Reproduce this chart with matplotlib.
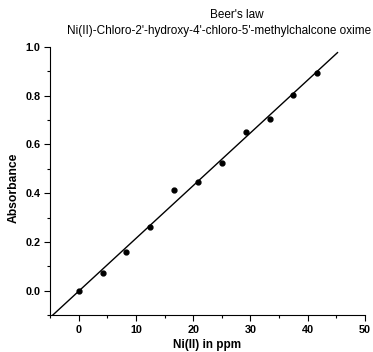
import numpy as np
import matplotlib
matplotlib.use("Agg")
import matplotlib.pyplot as plt
from matplotlib.ticker import MultipleLocator

conc = [0, 4.17, 8.33, 12.5, 16.67, 20.83, 25.0, 29.17, 33.33, 37.5, 41.67]
absorb = [0.0, 0.073, 0.160, 0.262, 0.414, 0.447, 0.525, 0.652, 0.706, 0.805, 0.895]
title1 = "Beer's law"
title2 = "Ni(II)-Chloro-2'-hydroxy-4'-chloro-5'-methylchalcone oxime"

plt.rcParams['font.family'] = ['Liberation Sans', 'DejaVu Sans']

fig = plt.figure(figsize=(3.73, 3.52), dpi=100)
ax = fig.add_axes([50/373, (352-315)/352, (365-50)/373, (315-47)/352])

slope, icpt = np.polyfit(conc, absorb, 1)
xl = np.array([-6, 45.2])
ax.plot(xl, slope*xl + icpt, color='black', lw=1.0)
ax.plot(conc, absorb, 'o', color='black', ms=3.5)

ax.set_xlim(-5, 50)
ax.set_ylim(-0.1, 1.0)
ax.xaxis.set_minor_locator(MultipleLocator(5))
ax.yaxis.set_minor_locator(MultipleLocator(0.1))
ax.set_xticks([0, 10, 20, 30, 40, 50])
ax.set_yticks([0.0, 0.2, 0.4, 0.6, 0.8, 1.0])
ax.set_yticklabels(['0.0', '0.2', '0.4', '0.6', '0.8', '1.0'])
for s in ['top', 'right']:
    ax.spines[s].set_visible(False)
ax.tick_params(which='major', direction='out', length=4, width=0.8, labelsize=7.8, pad=3)
ax.tick_params(which='minor', direction='out', length=2, width=0.8)
for lab in ax.get_xticklabels() + ax.get_yticklabels():
    lab.set_fontweight('bold')

ax.set_xlabel('Ni(II) in ppm', fontsize=8.5, fontweight='bold', labelpad=3)
ax.set_ylabel('Absorbance', fontsize=8.7, fontweight='bold', labelpad=8)
ax.yaxis.set_label_coords(-0.095, (315-188)/268)

fig.text(237/373, 1 - 15/352, title1, ha='center', va='center', fontsize=8.5)
fig.text(219/373, 1 - 31/352, title2, ha='center', va='center', fontsize=8.5)

fig.savefig('out.png', dpi=100)
